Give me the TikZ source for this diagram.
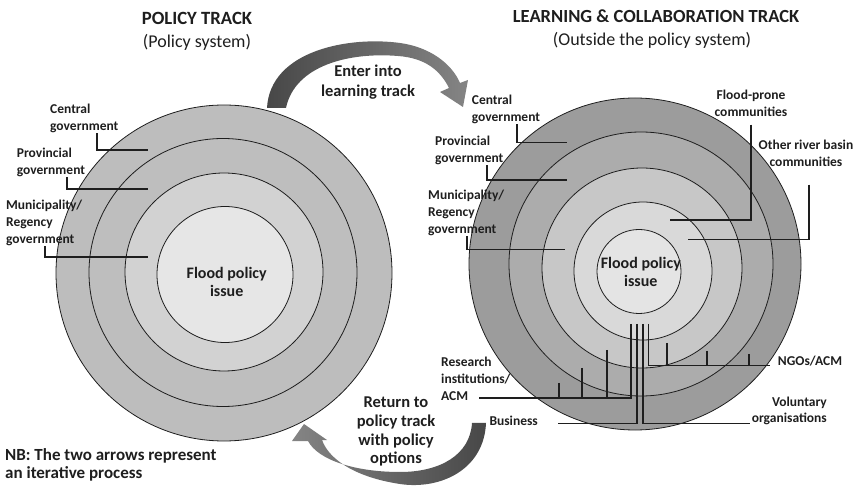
\documentclass[tikz,border=0pt]{standalone}
\usepackage{fontspec}
\setmainfont{Carlito}
\definecolor{txt}{HTML}{1E1E1E}
\definecolor{la}{HTML}{BDBDBD}
\definecolor{lb}{HTML}{BEBEBE}
\definecolor{lc}{HTML}{D2D2D2}
\definecolor{ld}{HTML}{E6E6E6}
\definecolor{ra}{HTML}{9C9C9C}
\definecolor{rb}{HTML}{ACACAC}
\definecolor{rc}{HTML}{C7C7C7}
\definecolor{rd}{HTML}{D9D9D9}
\definecolor{re}{HTML}{E4E4E4}
\begin{document}
\begin{tikzpicture}[x=1pt,y=-1pt,
  ring/.style={circle, draw=txt, line width=0.8pt, inner sep=0pt},
  lbl/.style={font=\bfseries\fontsize{13.5}{17}\selectfont, inner sep=0pt, text=txt, align=left, anchor=base west},
  big/.style={font=\bfseries\fontsize{16.5}{20}\selectfont, inner sep=0pt, text=txt, align=center, anchor=base},
  lead/.style={draw=txt, line width=1.2pt},
  tick/.style={draw=txt, line width=1.1pt}]
\useasboundingbox (0,0) rectangle (860,486);

% ---- left circles
\node[ring, fill=la, minimum size=336pt] (L1) at (224,273) {};
\node[ring, fill=lb, minimum size=268pt] (L2) at (223,272.5) {};
\node[ring, fill=lc, minimum size=198pt] (L3) at (224,272) {};
\node[ring, fill=ld, minimum size=136pt] (L4) at (225,274.5) {};

% ---- right circles
\node[ring, fill=ra, minimum size=332pt] (R1) at (635,264) {};
\node[ring, fill=rb, minimum size=264pt] (R2) at (641,264) {};
\node[ring, fill=rc, minimum size=200pt] (R3) at (642,268) {};
\node[ring, fill=rd, minimum size=138pt] (R4) at (643,271) {};
\node[ring, fill=re, minimum size=84pt] (R5) at (639,271.5) {};

% ---- titles
\node[font=\bfseries\fontsize{18.7}{22}\selectfont, text=txt, anchor=base, inner sep=0pt] (t1) at (197,24.3) {POLICY TRACK};
\node[font=\fontsize{18}{22}\selectfont, text=txt, anchor=base, inner sep=0pt] (t1b) at (197,47.3) {(Policy system)};
\node[font=\bfseries\fontsize{18.5}{22}\selectfont, text=txt, anchor=base, inner sep=0pt] (t2) at (656,22.7) {LEARNING \& COLLABORATION TRACK};
\node[font=\fontsize{18}{22}\selectfont, text=txt, anchor=base, inner sep=0pt] (t2b) at (652,45.6) {(Outside the policy system)};

% ---- centre texts
\node[big, font=\bfseries\fontsize{16}{18.4}\selectfont] (lf) at (226.7,297) {Flood policy\\issue};
\node[big, font=\bfseries\fontsize{16}{18.4}\selectfont] (rf) at (640.8,287) {Flood policy\\issue};

% ---- left labels
\node[lbl] (lcg) at (50,130.6) {Central\\government};
\node[lbl] (lpg) at (16.7,174.3) {Provincial\\government};
\node[lbl] (lmg) at (6,243.3) {Municipality/\\Regency\\government};
\coordinate (lcgE) at (148,150);
\coordinate (lpgE) at (148,189);
\coordinate (lmgE) at (148,257);
\draw[lead] (lcg.south -| 97,0) |- (lcgE);
\draw[lead] (lpg.south -| 67,0) |- (lpgE);
\draw[lead] (lmg.south -| 45,0) |- (lmgE);

% ---- right labels
\node[lbl] (rcg) at (471.7,122) {Central\\government};
\node[lbl] (rpg) at (435,163) {Provincial\\government};
\node[lbl] (rmg) at (428,233.3) {Municipality/\\Regency\\government};
\node[lbl, align=center, anchor=base] (fpc) at (751,116.3) {Flood-prone\\communities};
\node[lbl, align=center, anchor=base] (orb) at (806,166.3) {Other river basin\\communities};
\coordinate (rcgE) at (567,142.3);
\coordinate (rpgE) at (567,180);
\coordinate (rmgE) at (565,249.3);
\coordinate (fpcE) at (670,220);
\coordinate (orbE) at (688,239.3);
\draw[lead] (rcg.south -| 517,0) |- (rcgE);
\draw[lead] (rpg.south -| 487,0) |- (rpgE);
\draw[lead] (rmg.south -| 467,0) |- (rmgE);
\draw[lead] (fpc.south -| 751,0) ++(0,8) |- (fpcE);
\draw[lead] (orb.south -| 809,0) ++(0,18) |- (orbE);

% ---- bottom labels
\node[lbl] (ric) at (441,400) {Research\\institutions/\\ACM};
\node[lbl] (bus) at (489.3,425.3) {Business};
\node[lbl] (ngo) at (777.7,366) {NGOs/ACM};
\node[lbl, align=right, anchor=base east] (vol) at (827,423) {Voluntary\\organisations};

\coordinate (v1) at (631,324);
\coordinate (v2) at (637,324);
\coordinate (v3) at (643,324);
\coordinate (v4) at (648.5,324);
\coordinate (ricE) at (479,398);
\coordinate (busE) at (558.3,423.3);
\coordinate (volE) at (750,423.3);
\coordinate (ngoE) at (770,365.5);
\draw[lead] (v1) |- (ricE);
\draw[lead] (v2) |- (busE);
\draw[lead] (v3) |- (volE);
\draw[lead] (v4) |- (ngoE);
\foreach \x/\t in {559/383, 582/368, 607/350} \draw[tick] (\x,\t) -- (\x,398);
\foreach \x/\t in {667/343, 707/351, 749/354} \draw[tick] (\x,\t) -- (\x,365.5);

% ---- arrows
\path[left color=black!72, right color=black!48]
  (267,108) .. controls (270,50) and (350,36) .. (400,43)
  .. controls (430,47) and (452,64) .. (460,83)
  -- (468,80) -- (463,107) -- (440,92) -- (449,88)
  .. controls (440,70) and (425,58) .. (398,56)
  .. controls (350,52) and (295,65) .. (286,108) -- cycle;
\node[big] (ent) at (368,97) {Enter into\\learning track};

\path[left color=black!48, right color=black!72]
  (472,423) -- (486,423)
  .. controls (484,470) and (440,490) .. (400,484)
  .. controls (360,478) and (330,462) .. (322,440)
  -- (327,440) -- (304,424) -- (292,441) -- (308,441)
  .. controls (318,460) and (355,472) .. (400,472)
  .. controls (440,472) and (470,455) .. (472,423) -- cycle;
\node[big, font=\bfseries\fontsize{16.5}{18.7}\selectfont] (ret) at (396,463.7) {Return to\\policy track\\with policy\\options};

% ---- note
\node[lbl, font=\bfseries\fontsize{17}{18.3}\selectfont] (nb) at (5,478.8) {NB: The two arrows represent\\an iterative process};
\end{tikzpicture}
\end{document}
